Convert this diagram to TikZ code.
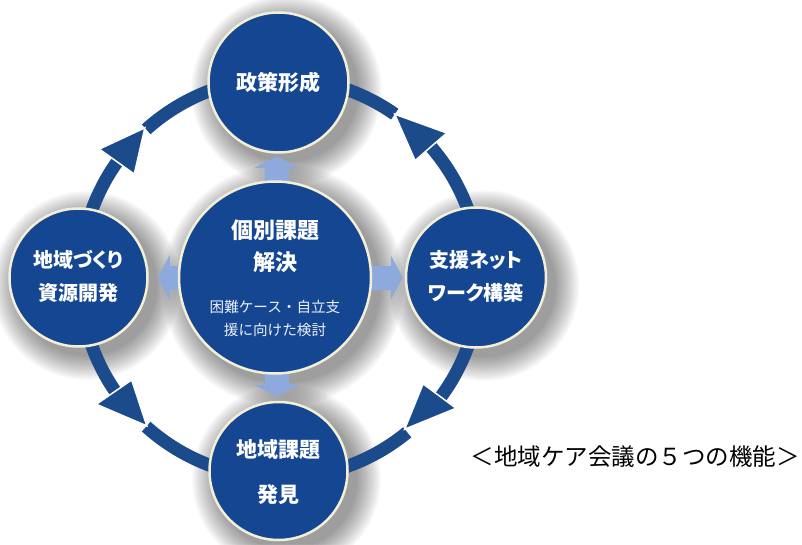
\documentclass[tikz,border=0pt]{standalone}
\usepackage{fontspec}
\newfontfamily\jp[RawFeature=+palt]{Noto Sans CJK JP}
\newfontfamily\jpt{Noto Sans CJK JP}
\usetikzlibrary{arrows.meta,calc}
\pgfdeclarelayer{bg}
\pgfsetlayers{bg,main}
\definecolor{navy}{RGB}{21,70,145}
\definecolor{ringc}{RGB}{28,75,140}
\definecolor{rim}{RGB}{243,239,214}
\definecolor{lightarrow}{RGB}{142,169,219}
\definecolor{softwhite}{RGB}{236,240,248}
\begin{document}
\begin{tikzpicture}[x=1pt,y=1pt,
  disc/.style={circle, fill=navy, draw=rim, line width=2.5pt, inner sep=0pt, minimum size=#1},
  lbl/.style={text=white, align=center, inner sep=0pt, font=\jp\bfseries\fontsize{21}{33}\selectfont},
  sml/.style={text=softwhite, align=center, inner sep=0pt, font=\jpt\fontsize{14.6}{23}\selectfont},
  ring/.style={draw=ringc, line width=13pt},
  ringhead/.style={fill=ringc, draw=white, line width=1.5pt, line join=miter},
  blk/.style={draw=lightarrow, line width=24pt, -{Triangle[width=44pt,length=12pt]}, shorten <=-6pt}]
\useasboundingbox (0,0) rectangle (802,544);

% circles
\node[disc=140pt] (T) at (278.5,461.5) {};
\node[disc=192pt] (C) at (275,266.5) {};
\node[disc=138pt] (L) at (78.5,266.5) {};
\node[disc=140pt] (R) at (476,266.5) {};
\node[disc=138pt] (B) at (278.5,73) {};
\coordinate (O) at (280,266);

\begin{pgfonlayer}{bg}
  \fill[white] (0,0) rectangle (802,544);
  % soft shadows
  \foreach \n/\r in {T/70,C/96,L/69,R/70,B/69}{
    \foreach \k in {1,...,14}{
      \fill[black,opacity=0.03] ($(\n)+(8,-8)$) circle[radius=\r+\k*1.8];
    }
  }
  % ring arcs
  \draw[ring] ($(O)+(180:200)$) arc[start angle=180, end angle=144.5, radius=200];
  \draw[ring] ($(O)+(132:200)$) arc[start angle=132, end angle=90, radius=200];
  \draw[ring] ($(O)+(0:200)$) arc[start angle=0, end angle=41, radius=200];
  \draw[ring] ($(O)+(55:200)$) arc[start angle=55, end angle=90, radius=200];
  \draw[ring] ($(O)+(180:200)$) arc[start angle=180, end angle=214.5, radius=200];
  \draw[ring] ($(O)+(228:200)$) arc[start angle=228, end angle=270, radius=200];
  \draw[ring] ($(O)+(0:200)$) arc[start angle=0, end angle=-36.5, radius=200];
  \draw[ring] ($(O)+(-50.5:200)$) arc[start angle=-50.5, end angle=-90, radius=200];
  % ring arrowheads
  \filldraw[ringhead] ($(O)+(144.5:179)$) -- ($(O)+(144.5:222)$) -- ($(O)+(132:202)$) -- cycle;
  \filldraw[ringhead] ($(O)+(41:179)$) -- ($(O)+(41:221)$) -- ($(O)+(55:200)$) -- cycle;
  \filldraw[ringhead] ($(O)+(214.5:180)$) -- ($(O)+(214.5:223)$) -- ($(O)+(228:199)$) -- cycle;
  \filldraw[ringhead] ($(O)+(-36.5:178)$) -- ($(O)+(-36.5:219)$) -- ($(O)+(-50.5:196)$) -- cycle;
  % light block arrows from the centre
  \draw[blk, shorten >=2.5pt] (C) -- (T);
  \draw[blk, shorten >=4pt] (C) -- (B);
  \draw[blk, shorten >=9pt] (C) -- (L);
  \draw[blk, shorten >=2pt] (C) -- (R);
\end{pgfonlayer}

% texts
\node[lbl] (Tt) at (T) {政策形成};
\node[lbl, font=\jp\bfseries\fontsize{22}{32}\selectfont] (Ct) at ([yshift=31.5pt]C.center) {個別課題\\解決};
\node[sml] (Cs) at ([yshift=-41pt]C.center) {困難ケース・自立支\\援に向けた検討};
\node[lbl, font=\jp\bfseries\fontsize{20}{33}\selectfont] (Lt) at ([yshift=1pt]L.center) {地域づくり\\資源開発};
\node[lbl, font=\jp\bfseries\fontsize{20}{33}\selectfont] (Rt) at ([yshift=1pt]R.center) {支援ネット\\ワーク構築};
\node[lbl, font=\jp\bfseries\fontsize{21}{45}\selectfont] (Bt) at ([yshift=-1.5pt]B.center) {地域課題\\発見};
\node[font=\jpt\fontsize{23.5}{28}\selectfont, text=black, inner sep=0pt] (title) at (635,87) {＜地域ケア会議の５つの機能＞};
\end{tikzpicture}
\end{document}
